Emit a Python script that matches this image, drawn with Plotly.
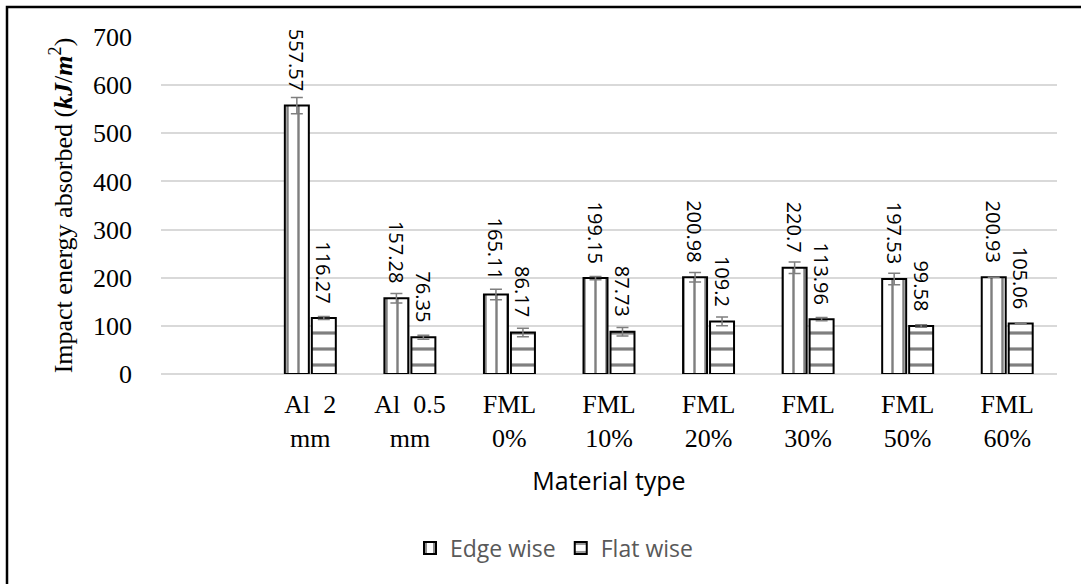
import plotly.graph_objects as go

categories = ["Al  2<br>mm", "Al  0.5<br>mm", "FML<br>0%", "FML<br>10%", "FML<br>20%",
              "FML<br>30%", "FML<br>50%", "FML<br>60%"]
edge_wise = [557.57, 157.28, 165.11, 199.15, 200.98, 220.7, 197.53, 200.93]
flat_wise = [116.27, 76.35, 86.17, 87.73, 109.2, 113.96, 99.58, 105.06]
edge_err = [17, 10, 11, 3.5, 10, 12, 12, 0]
flat_err = [3, 4, 9, 9, 9, 3.5, 2.5, 0]
y_ticks = [0, 100, 200, 300, 400, 500, 600, 700]

xpos = [i + 1 for i in range(len(categories))]

W, H = 1081, 584
L, R, T, B = 161, 24, 37, 210

fig = go.Figure()
fig.add_trace(go.Bar(
    name="Edge wise", x=xpos, y=edge_wise, offset=-0.256, width=0.241,
    marker=dict(color="white", line=dict(color="black", width=2),
                pattern=dict(shape="|", fgcolor="black", bgcolor="white", size=11, solidity=0.22)),
    error_y=dict(type="data", array=edge_err, color="#7f7f7f", thickness=1.5, width=6),
))
fig.add_trace(go.Bar(
    name="Flat wise", x=xpos, y=flat_wise, offset=0.015, width=0.241,
    marker=dict(color="white", line=dict(color="black", width=2),
                pattern=dict(shape="-", fgcolor="black", bgcolor="white", size=16, solidity=0.2)),
    error_y=dict(type="data", array=flat_err, color="#7f7f7f", thickness=1.5, width=6),
))

annotations = []
for vals, dx in [(edge_wise, -0.1355), (flat_wise, 0.1355)]:
    for x, v in zip(xpos, vals):
        annotations.append(dict(
            x=x + dx, y=v, xref="x", yref="y", text=f"{v:g}", showarrow=False,
            textangle=90, yanchor="bottom", xanchor="center", yshift=13,
            font=dict(family="Open Sans, sans-serif", size=20, color="black"),
        ))

fig.update_layout(
    width=W, height=H,
    margin=dict(l=L, r=R, t=T, b=B),
    paper_bgcolor="white", plot_bgcolor="white",
    barmode="group",
    showlegend=True,
    legend=dict(orientation="h", x=(554 - L) / (W - L - R), xanchor="center",
                y=(374 - 548) / (H - T - B), yanchor="middle",
                font=dict(family="Open Sans, sans-serif", size=23, color="#595959"),
                itemwidth=30),
    annotations=annotations,
    xaxis=dict(
        range=[-0.5, 8.5], tickmode="array", tickvals=xpos, ticktext=categories,
        showgrid=False, zeroline=False, showline=False, ticks="", ticklabelstandoff=12,
        tickfont=dict(family="Liberation Serif, serif", size=26, color="black"),
        title=dict(text="Material type", standoff=20,
                   font=dict(family="Open Sans, sans-serif", size=25, color="black")),
    ),
    yaxis=dict(
        range=[0, 700], tickmode="array", tickvals=y_ticks,
        showgrid=True, gridcolor="#d9d9d9", gridwidth=1.5,
        zeroline=True, zerolinecolor="#d9d9d9", zerolinewidth=1.5,
        showline=False, ticks="", ticklabelstandoff=28,
        tickfont=dict(family="Liberation Serif, serif", size=26, color="black"),
        title=dict(text="Impact energy absorbed (<b><i>kJ</i></b>/<b><i>m</i></b><sup>2</sup>)",
                   standoff=12,
                   font=dict(family="Liberation Serif, serif", size=26, color="black")),
    ),
    shapes=[dict(type="rect", xref="paper", yref="paper",
                 x0=(7 - L) / (W - L - R), x1=(1090 - L) / (W - L - R),
                 y0=(H - B - 595) / (H - T - B), y1=(H - B - 7) / (H - T - B),
                 line=dict(color="black", width=2.5), fillcolor="rgba(0,0,0,0)", layer="below")],
)

fig.write_html("out.html")
